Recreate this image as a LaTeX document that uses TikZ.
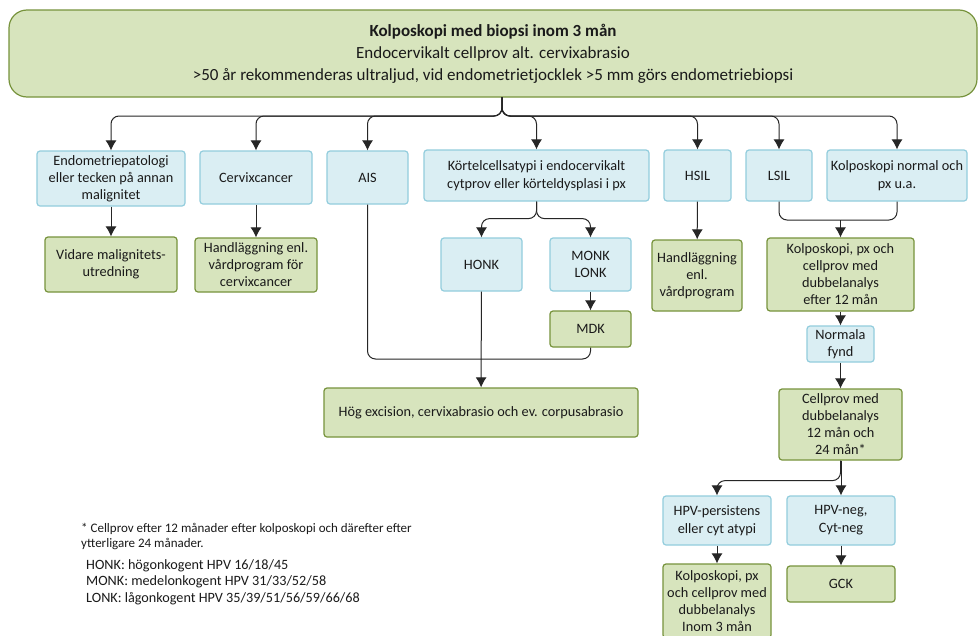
\documentclass[tikz,border=0pt]{standalone}
\usepackage{fontspec}
\setmainfont{Carlito}
\usetikzlibrary{arrows.meta}
\definecolor{blueFill}{HTML}{DAEEF3}
\definecolor{blueLine}{HTML}{93CDDD}
\definecolor{greenFill}{HTML}{D7E4BD}
\definecolor{greenLine}{HTML}{77933C}
\definecolor{lineGray}{HTML}{262626}
\definecolor{textGray}{HTML}{1A1A1A}
\newcommand{\boxfont}{\fontsize{14.3}{17}\selectfont}
\newcommand{\wideboxfont}{\fontsize{14.3}{18}\selectfont}
\newcommand{\topfont}{\fontsize{17}{22}\selectfont}
\newcommand{\notefont}{\fontsize{13}{15.5}\selectfont}
\newcommand{\abbrfont}{\fontsize{14.2}{16.5}\selectfont}
\tikzset{
    sz/.style 2 args={minimum width=#1pt,minimum height=#2pt},
    bluebox/.style={rectangle,rounded corners=3pt,draw=blueLine,fill=blueFill,
        line width=1.2pt,align=center,inner sep=1pt,font=\boxfont,text=textGray},
    greenbox/.style={rectangle,rounded corners=3pt,draw=greenLine,fill=greenFill,
        line width=1.2pt,align=center,inner sep=1pt,font=\boxfont,text=textGray},
    arr/.style={->,>={Latex[length=10pt,width=11pt]},draw=lineGray,line width=1pt,rounded corners=8pt},
    link/.style={-,draw=lineGray,line width=1pt,rounded corners=8pt},
    note/.style={anchor=north west,align=left,text=textGray,inner sep=0pt},
}

\begin{document}
\begin{tikzpicture}[x=1pt,y=-1pt]
    \clip (0,0) rectangle (979,635);
    \fill[white] (0,0) rectangle (979,635);

    % top box
    \node[greenbox,rounded corners=18pt,sz={968}{87},font=\topfont] (top) at (493,53.5)
        {\textbf{Kolposkopi med biopsi inom 3 mån}\\Endocervikalt cellprov alt. cervixabrasio\\
         >50 år rekommenderas ultraljud, vid endometrietjocklek >5 mm görs endometriebiopsi};
    \coordinate (t0) at (502,97);

    % first row
    \node[bluebox,sz={148}{55}] (endo) at (111,178.5) {Endometriepatologi\\eller tecken på annan\\malignitet};
    \node[bluebox,sz={112}{53}] (cervix) at (256,177.5) {Cervixcancer};
    \node[bluebox,sz={81}{53}] (ais) at (367.5,177.5) {AIS};
    \node[bluebox,sz={225}{51},font=\wideboxfont] (kortel) at (536.5,175.5) {Körtelcellsatypi i endocervikalt\\cytprov eller körteldysplasi i px};
    \node[bluebox,sz={67}{51}] (hsil) at (697.5,175.5) {HSIL};
    \node[bluebox,sz={66}{51}] (lsil) at (779,175.5) {LSIL};
    \node[bluebox,sz={140}{51},font=\wideboxfont] (kolnorm) at (897,175.5) {Kolposkopi normal och\\px u.a.};

    % second row
    \node[greenbox,sz={132}{55}] (vidare) at (111,264.5) {Vidare malignitets-\\utredning};
    \node[greenbox,sz={122}{54}] (handcerv) at (256,265) {Handläggning enl.\\vårdprogram för\\cervixcancer};
    \node[bluebox,sz={81}{53}] (honk) at (481.5,264.5) {HONK};
    \node[bluebox,sz={81}{53}] (monk) at (590.5,264.5) {MONK\\LONK};
    \node[greenbox,sz={81}{36}] (mdk) at (590.5,329) {MDK};
    \node[greenbox,sz={90}{71}] (handvp) at (697,275.5) {Handläggning\\enl.\\vårdprogram};
    \node[greenbox,sz={147}{73}] (kolpx) at (840.5,274.5) {Kolposkopi, px och\\cellprov med\\dubbelanalys\\efter 12 mån};
    \node[greenbox,sz={314}{49}] (hog) at (481,412.5) {Hög excision, cervixabrasio och ev. corpusabrasio};

    % right column
    \node[bluebox,sz={67}{36}] (normala) at (840.5,344) {Normala\\fynd};
    \node[greenbox,sz={123}{71}] (cellprov) at (840.5,424.5) {Cellprov med\\dubbelanalys\\12 mån och\\24 mån*};
    \node[bluebox,sz={108}{49},font=\wideboxfont] (hpvpers) at (717,520.5) {HPV-persistens\\eller cyt atypi};
    \node[bluebox,sz={108}{49},font=\wideboxfont] (hpvneg) at (841,520.5) {HPV-neg,\\Cyt-neg};
    \node[greenbox,sz={108}{74}] (kolpx3) at (717,601) {Kolposkopi, px\\och cellprov med\\dubbelanalys\\Inom 3 mån};
    \node[greenbox,sz={108}{36}] (gck) at (841,584) {GCK};

    % connectors from top
    \foreach \b in {endo,cervix,ais,kortel,hsil,lsil,kolnorm}
        \draw[arr] (t0) -- ++(0,19) -| (\b.north);

    \draw[arr] (endo) -- (vidare);
    \draw[arr] (cervix) -- (handcerv);
    \draw[arr] (hsil) -- (handvp);
    \draw[arr] (kortel.south) -- ++(0,17) -| (honk.north);
    \draw[arr] (kortel.south) -- ++(0,17) -| (monk.north);
    \draw[arr] (monk) -- (mdk);

    % merge into high excision
    \coordinate (m2) at (481,359);
    \draw[link] (ais.south) |- (m2);
    \draw[link] (mdk.south) |- (m2);
    \draw[arr] (honk) -- (hog);

    % LSIL and normal colposcopy
    \coordinate (m1) at (840.5,220);
    \draw[link] (lsil.south) |- (m1);
    \draw[link] (kolnorm.south) |- (m1);
    \draw[arr] (m1) -- (kolpx.north);
    \draw[arr] (kolpx) -- (normala);
    \draw[arr] (normala) -- (cellprov);
    \draw[arr] (cellprov.south) -- ++(0,20) -| (hpvpers.north);
    \draw[arr] (cellprov.south -| hpvneg.north) -- (hpvneg.north);
    \draw[arr] (hpvpers) -- (kolpx3);
    \draw[arr] (hpvneg) -- (gck);

    % notes
    \node[note,font=\notefont] (fn) at (81,523) {* Cellprov efter 12 månader efter kolposkopi och därefter efter\\ytterligare 24 månader.};
    \node[note,font=\abbrfont] (abbr) at (86,559) {HONK: högonkogent HPV 16/18/45\\MONK: medelonkogent HPV 31/33/52/58\\LONK: lågonkogent HPV 35/39/51/56/59/66/68};
\end{tikzpicture}
\end{document}
